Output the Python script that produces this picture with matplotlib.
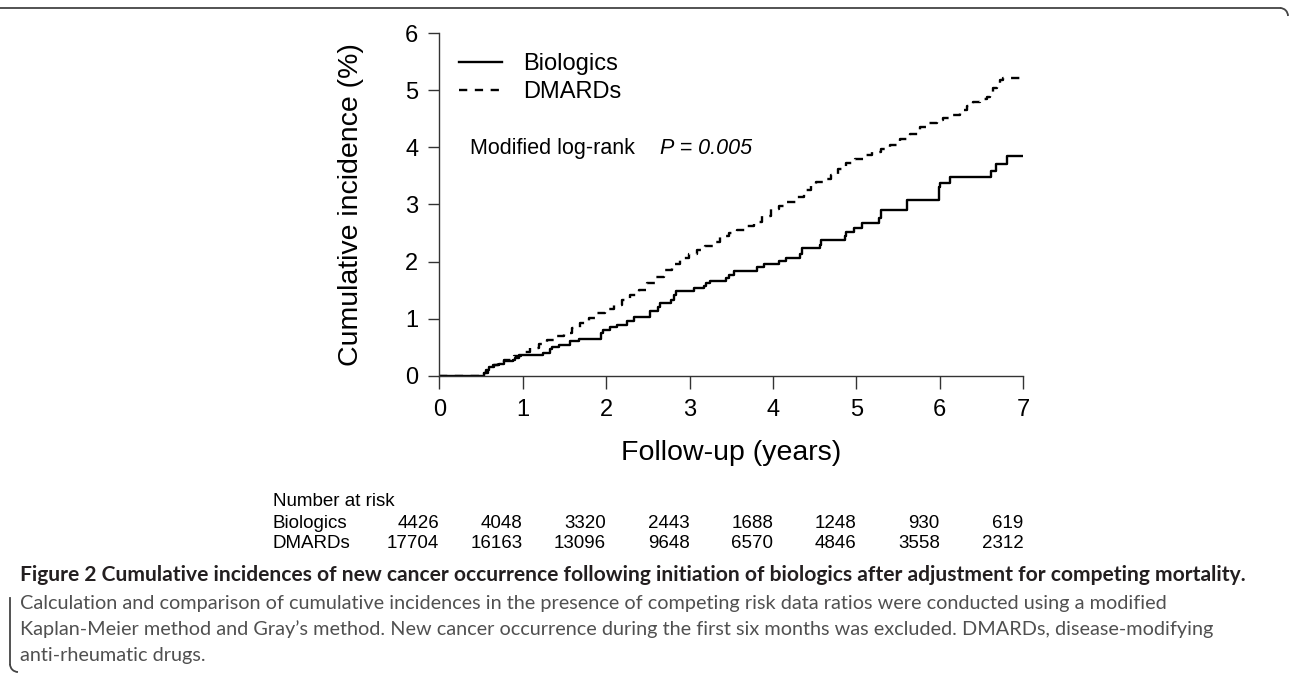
import matplotlib
matplotlib.use('Agg')
from matplotlib import pyplot as plt
import matplotlib.transforms as mtransforms
from matplotlib.lines import Line2D
from matplotlib.patches import Arc

# curve cumulative incidence (%) - step, tempo in anni
bio_t = [0, 0.53, 0.56, 0.59, 0.66, 0.72, 0.77, 0.88, 0.91, 0.95,
         1.24, 1.33, 1.35, 1.43, 1.57, 1.68, 1.94, 1.96,
         2.05, 2.13, 2.25, 2.33, 2.52, 2.62, 2.64, 2.78, 2.81, 2.84,
         3.05, 3.17, 3.20, 3.24, 3.44, 3.47, 3.53, 3.81, 3.89,
         4.07, 4.16, 4.32, 4.35, 4.56, 4.58, 4.86, 4.88, 4.97,
         5.07, 5.27, 5.30, 5.60, 5.99,
         6.00, 6.12, 6.61, 6.67, 6.81, 7.00]
bio_v = [0, 0.05, 0.10, 0.16, 0.18, 0.21, 0.25, 0.28, 0.31, 0.36,
         0.40, 0.46, 0.51, 0.54, 0.60, 0.64, 0.75, 0.80,
         0.86, 0.89, 0.95, 1.03, 1.13, 1.20, 1.28, 1.33, 1.42, 1.48,
         1.53, 1.58, 1.62, 1.66, 1.72, 1.76, 1.84, 1.90, 1.95,
         2.01, 2.06, 2.14, 2.24, 2.29, 2.38, 2.45, 2.52, 2.58,
         2.67, 2.76, 2.90, 3.08, 3.30,
         3.37, 3.48, 3.59, 3.71, 3.85, 3.85]

dm_t = [0, 0.53, 0.58, 0.64, 0.70, 0.78, 0.89, 0.98,
        1.09, 1.19, 1.29, 1.39, 1.49, 1.59, 1.69, 1.79, 1.89, 1.99,
        2.09, 2.19, 2.29, 2.39, 2.49, 2.59, 2.69, 2.79, 2.89, 2.99,
        3.09, 3.19, 3.29, 3.37, 3.47, 3.57, 3.67, 3.77, 3.87, 3.97,
        4.07, 4.17, 4.27, 4.37, 4.45, 4.52, 4.60, 4.69, 4.78, 4.88, 4.98,
        5.09, 5.19, 5.29, 5.40, 5.52, 5.64, 5.76, 5.86, 5.96,
        6.04, 6.12, 6.24, 6.32, 6.40, 6.48, 6.56, 6.60, 6.64, 6.68, 6.72, 6.76, 7.00]
dm_v = [0, 0.05, 0.12, 0.18, 0.22, 0.27, 0.35, 0.41,
        0.48, 0.56, 0.63, 0.69, 0.75, 0.83, 0.92, 1.01, 1.10, 1.17,
        1.24, 1.32, 1.41, 1.51, 1.62, 1.73, 1.85, 1.95, 2.06, 2.13,
        2.20, 2.27, 2.35, 2.45, 2.50, 2.55, 2.62, 2.70, 2.80, 2.92,
        2.98, 3.05, 3.14, 3.25, 3.33, 3.40, 3.45, 3.52, 3.62, 3.73, 3.80,
        3.87, 3.92, 3.98, 4.05, 4.14, 4.24, 4.36, 4.42, 4.48,
        4.52, 4.57, 4.66, 4.72, 4.80, 4.85, 4.89, 4.96, 5.04, 5.12, 5.18, 5.21, 5.21]

# tabella number at risk
risk_years = [0, 1, 2, 3, 4, 5, 6, 7]
risk_bio = [4426, 4048, 3320, 2443, 1688, 1248, 930, 619]
risk_dm = [17704, 16163, 13096, 9648, 6570, 4846, 3558, 2312]

caption_title = ("Figure 2 Cumulative incidences of new cancer occurrence following "
                 "initiation of biologics after adjustment for competing mortality.")
caption_lines = [
    "Calculation and comparison of cumulative incidences in the presence of competing risk data ratios were conducted using a modified",
    "Kaplan-Meier method and Gray\u2019s method. New cancer occurrence during the first six months was excluded. DMARDs, disease-modifying",
    "anti-rheumatic drugs.",
]

W, H = 1290, 674
plt.rcParams['font.family'] = ['Liberation Sans', 'DejaVu Sans']

fig = plt.figure(figsize=(W / 100, H / 100), dpi=100)
ax = fig.add_axes([439.3 / W, 1 - 375.7 / H, 584 / W, 342.4 / H])

ax.step(bio_t, bio_v, where='post', color='black', lw=1.7, label='Biologics')
ax.step(dm_t, dm_v, where='post', color='black', lw=1.7,
        ls=(0, (3.5, 3.2)), label='DMARDs')

ax.set_xlim(0, 7)
ax.set_ylim(0, 6)
ax.set_xticks(range(0, 8))
ax.set_yticks(range(0, 7))
ax.spines['top'].set_visible(False)
ax.spines['right'].set_visible(False)
for s in ['left', 'bottom']:
    ax.spines[s].set_linewidth(1.0)
    ax.spines[s].set_color('#333333')
ax.tick_params(axis='y', length=8, width=1.0, pad=7, labelsize=17, color='#333333')
ax.tick_params(axis='x', length=9, width=1.0, pad=8, labelsize=17, color='#333333')

leg = ax.legend(loc='upper left', bbox_to_anchor=(0.033, 0.942), frameon=False,
                fontsize=17, handlelength=1.85, handletextpad=0.9,
                labelspacing=0.25, borderpad=0, borderaxespad=0)

ax.text(0.37, 3.99, 'Modified log-rank', fontsize=15.5, va='center', ha='left')
ax.text(2.64, 3.99, 'P = 0.005', fontsize=15.5, va='center', ha='left', style='italic')

fig.text(731.3 / W, 1 - 453 / H, 'Follow-up (years)', fontsize=20.5, ha='center', va='center')
fig.text(351 / W, 1 - 204.5 / H, 'Cumulative incidence (%)', fontsize=20.5,
         ha='center', va='center', rotation=90)

# number at risk
tr = mtransforms.blended_transform_factory(ax.transData, fig.transFigure)
fig.text(273 / W, 1 - 502 / H, 'Number at risk', fontsize=13.5, va='center')
fig.text(273 / W, 1 - 523 / H, 'Biologics', fontsize=13.5, va='center')
fig.text(273 / W, 1 - 543 / H, 'DMARDs', fontsize=13.5, va='center')
for yr, nb, nd in zip(risk_years, risk_bio, risk_dm):
    ax.text(yr, 1 - 523 / H, str(nb), transform=tr, fontsize=13.5, ha='right', va='center')
    ax.text(yr, 1 - 543 / H, str(nd), transform=tr, fontsize=13.5, ha='right', va='center')

# didascalia
fig.text(20 / W, 1 - 575 / H, caption_title, fontsize=15.1, fontweight='bold',
         family='Lato', color='#231f20', va='center')
for i, line in enumerate(caption_lines):
    fig.text(20 / W, 1 - (603 + 26 * i) / H, line, fontsize=14.3, family='Lato',
             color='#505050', va='center')

# cornice
bc = '#444444'
fig.add_artist(Line2D([0, 1280 / W], [1 - 8 / H, 1 - 8 / H], color=bc, lw=1.3))
fig.add_artist(Arc((1280 / W, 1 - 16 / H), 16 / W, 16 / H, theta1=0, theta2=90, color=bc, lw=1.3))
fig.add_artist(Line2D([10 / W, 10 / W], [1 - 598 / H, 1 - 664 / H], color=bc, lw=1.3))
fig.add_artist(Arc((18 / W, 1 - 664 / H), 16 / W, 16 / H, theta1=180, theta2=270, color=bc, lw=1.3))

fig.savefig('out.png', dpi=100)
